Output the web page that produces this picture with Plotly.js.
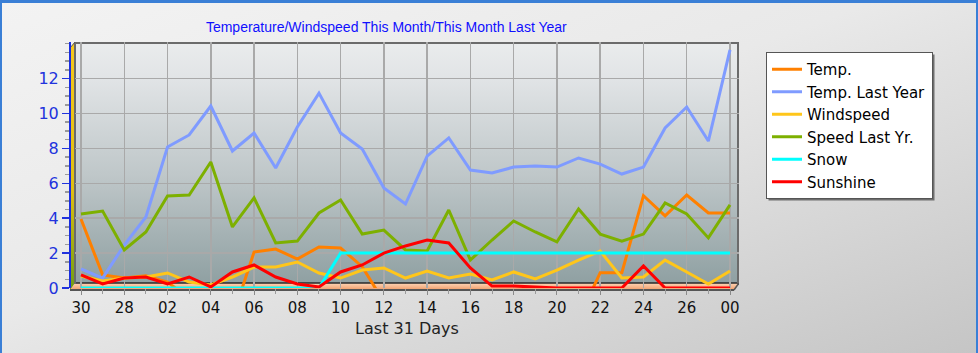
<!DOCTYPE html>
<html>
<head>
<meta charset="utf-8">
<script src="https://cdn.plot.ly/plotly-3.0.1.min.js"></script>
<style>
  html, body { margin: 0; padding: 0; }
  #wrap { position: relative; width: 978px; height: 353px; overflow: hidden;
          background: linear-gradient(to bottom right, #f3f3f3 0%, #e9e9e9 45%, #c5c5c5 100%); }
  #chart { position: absolute; left: 0; top: 0; width: 978px; height: 353px; }
  #frame { position: absolute; left: 0; top: 0; width: 974px; height: 350px; pointer-events: none;
           border-top: 3px solid #3a7fd6; border-left: 2px solid #3a7fd6; border-right: 2px solid #3a7fd6; }
</style>
</head>
<body>
<div id="wrap"><div id="chart"></div><div id="frame"></div></div>
<script>
// ---- data ----
const dayIndex = [0,1,2,3,4,5,6,7,8,9,10,11,12,13,14,15,16,17,18,19,20,21,22,23,24,25,26,27,28,29,30];
const tickIndex = [0,2,4,6,8,10,12,14,16,18,20,22,24,26,28,30];
const tickLabels = ["30","28","02","04","06","08","10","12","14","16","18","20","22","24","26","00"];
const yTicks = [0,2,4,6,8,10,12];

const temp = [3.95,0.75,0.57,0.7,0.34,-0.6,-1.2,-1.7,2.06,2.23,1.66,2.35,2.29,1.22,-0.8,-1.0,-1.0,-1.0,-1.0,-1.0,-1.0,-1.0,-1.0,-1.8,0.88,0.88,5.29,4.13,5.33,4.3,4.3];
const tempLastYear = [1.09,0.57,2.46,4.07,8.08,8.77,10.43,7.85,8.88,6.88,9.23,11.17,8.88,7.97,5.73,4.81,7.56,8.6,6.76,6.59,6.93,6.99,6.93,7.45,7.1,6.53,6.93,9.17,10.37,8.42,13.64];
const windspeed = [0.69,0.4,0.57,0.63,0.86,0.34,0.17,0.63,1.2,1.2,1.49,0.86,0.57,1.03,1.15,0.57,0.97,0.57,0.8,0.46,0.92,0.52,1.03,1.6,2.12,0.57,0.63,1.6,0.92,0.23,0.97];
const speedLastYr = [4.24,4.41,2.18,3.21,5.27,5.33,7.22,3.5,5.16,2.58,2.69,4.3,5.04,3.09,3.32,2.18,2.12,4.47,1.6,2.75,3.84,3.21,2.64,4.53,3.09,2.69,3.09,4.87,4.24,2.87,4.76];
const snow = [0,0,0,0,0,0,0,0,0,0,0,0,2,2,2,2,2,2,2,2,2,2,2,2,2,2,2,2,2,2,2];
const sunshine = [0.75,0.23,0.57,0.63,0.23,0.63,0.06,0.92,1.32,0.63,0.23,0.06,0.92,1.32,2.0,2.41,2.75,2.58,1.15,0.11,0.11,0.06,0,0,0,0,1.26,0,0,0,0];

const seriesNames = ["Temp.","Temp. Last Year","Windspeed","Speed Last Yr.","Snow","Sunshine"];
const seriesValues = [temp, tempLastYear, windspeed, speedLastYr, snow, sunshine];
const seriesColors = ["#ff8000","#7f9bff","#ffc61a","#7db000","#00ffff","#ff0000"];

// ---- 3D box decoration (background image) ----
const svg = '<svg xmlns="http://www.w3.org/2000/svg" width="669" height="249" viewBox="0 0 669 249" preserveAspectRatio="none">' +
 '<defs>' +
 '<linearGradient id="bw" x1="0" y1="0" x2="0" y2="1">' +
   '<stop offset="0" stop-color="#eaeced"/><stop offset="0.15" stop-color="#e1e4e6"/>' +
   '<stop offset="0.55" stop-color="#bfc7c9"/><stop offset="1" stop-color="#8fa0a2"/></linearGradient>' +
 '<linearGradient id="lw" x1="0" y1="0" x2="0" y2="1">' +
   '<stop offset="0" stop-color="#f7c81c"/><stop offset="0.6" stop-color="#dfbf12"/><stop offset="1" stop-color="#6f9c14"/></linearGradient>' +
 '<linearGradient id="fl" x1="0" y1="0" x2="0" y2="1">' +
   '<stop offset="0" stop-color="#fdd6b8"/><stop offset="1" stop-color="#f09c68"/></linearGradient>' +
 '</defs>' +
 '<rect x="5" y="0" width="664" height="242" fill="url(#bw)"/>' +
 '<polygon points="0,6 5,0 5,242 0,248" fill="url(#lw)"/>' +
 '<polygon points="5,241 669,241 664,248 0,248" fill="url(#fl)"/>' +
 '<line x1="5" y1="241" x2="669" y2="241" stroke="#2a2a2a" stroke-width="1.5"/>' +
 '<line x1="0" y1="248" x2="664" y2="248" stroke="#555" stroke-width="2"/>' +
 '<line x1="669" y1="241" x2="664" y2="248" stroke="#555" stroke-width="1.5"/>' +
 '<polyline points="5,242 5,1 668,1 668,241" fill="none" stroke="#6b6b6b" stroke-width="2"/>' +
 '<line x1="0" y1="6" x2="5" y2="0" stroke="#555" stroke-width="1"/>' +
 '</svg>';

const traces = seriesNames.map((n, k) => ({
  type: 'scatter', mode: 'lines', name: n,
  x: dayIndex, y: seriesValues[k],
  line: { color: seriesColors[k], width: 3 },
  hoverinfo: 'x+y+name'
}));

// pixel -> paper helpers for decoration placement
const px = v => (v - 70) / 669;
const py = v => (288 - v) / 246;

const layout = {
  width: 978, height: 353,
  margin: { l: 70, r: 239, t: 42, b: 65, pad: 0 },
  paper_bgcolor: 'rgba(0,0,0,0)',
  plot_bgcolor: 'rgba(0,0,0,0)',
  showlegend: true,
  title: { text: 'Temperature/Windspeed This Month/This Month Last Year',
           font: { family: 'Liberation Sans, Arial, sans-serif', size: 14, color: '#1010ff' },
           xref: 'container', x: 0.395, xanchor: 'center', yref: 'container', y: 0.923, yanchor: 'middle' },
  xaxis: {
    domain: [5/669, 1],
    range: [-0.2774, 30.416],
    tickmode: 'array', tickvals: tickIndex, ticktext: tickLabels,
    ticks: 'outside', ticklen: 6, tickcolor: '#8a8a8a', tickwidth: 1,
    minor: { dtick: 1, tick0: 0, ticks: 'outside', ticklen: 5, tickcolor: '#9a9a9a', showgrid: false },
    showgrid: true, gridcolor: '#a9a9a9', gridwidth: 1.5,
    zeroline: false, showline: false,
    tickfont: { family: 'DejaVu Sans, Verdana, sans-serif', size: 15, color: '#111' },
    title: { text: 'Last 31 Days', standoff: 6,
             font: { family: 'DejaVu Sans, Verdana, sans-serif', size: 16, color: '#222' } }
  },
  yaxis: {
    anchor: 'free', position: 0,
    range: [0, 14.097],
    tickmode: 'array', tickvals: yTicks,
    ticks: 'outside', ticklen: 7, tickcolor: '#2233dd', tickwidth: 1.5,
    minor: { dtick: 0.5, ticks: 'outside', ticklen: 4, tickcolor: '#9a9a9a', showgrid: false },
    showline: true, linecolor: '#1a2ee0', linewidth: 2,
    showgrid: true, gridcolor: '#a9a9a9', gridwidth: 1.5,
    zeroline: false,
    tickfont: { family: 'DejaVu Sans, Verdana, sans-serif', size: 16, color: '#2233dd' }
  },
  legend: {
    x: px(766), y: py(52), xanchor: 'left', yanchor: 'top',
    bgcolor: '#ffffff', bordercolor: '#555555', borderwidth: 1,
    font: { family: 'DejaVu Sans, Verdana, sans-serif', size: 15, color: '#000' },
    tracegroupgap: 0
  },
  shapes: [{
    type: 'rect', xref: 'paper', yref: 'paper', layer: 'below',
    x0: px(768), x1: px(942), y0: py(54), y1: py(194),
    fillcolor: '#6e6e6e', line: { width: 0 }
  }],
  images: [{
    source: 'data:image/svg+xml;base64,' + btoa(svg),
    xref: 'paper', yref: 'paper', x: 0, y: 1, sizex: 1, sizey: 249/246,
    xanchor: 'left', yanchor: 'top', sizing: 'stretch', layer: 'below'
  }]
};

Plotly.newPlot('chart', traces, layout, { displayModeBar: false, staticPlot: true }).then(gd => {
  // align the legend shadow with the drawn legend box
  const bg = gd.querySelector('.legend .bg');
  if (bg) {
    const r = bg.getBoundingClientRect();
    const c = gd.getBoundingClientRect();
    const l = r.left - c.left, t = r.top - c.top;
    Plotly.relayout(gd, {
      'shapes[0].x0': px(l + 2), 'shapes[0].x1': px(l + r.width + 2),
      'shapes[0].y0': py(t + 2), 'shapes[0].y1': py(t + r.height + 2)
    });
  }
});
</script>
</body>
</html>
